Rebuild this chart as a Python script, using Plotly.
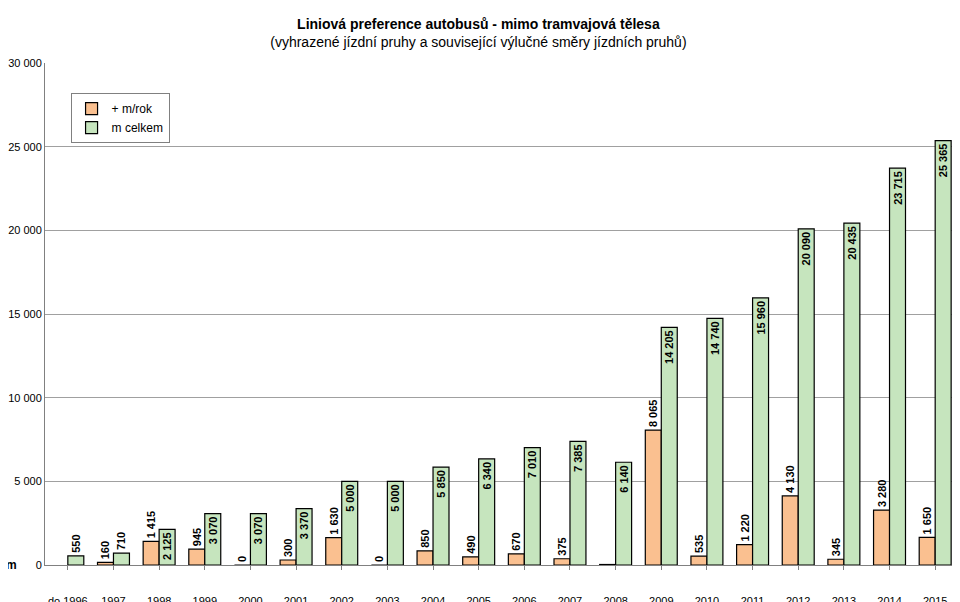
import plotly.graph_objects as go

years = ['do 1996'] + [str(y) for y in range(1997, 2016)]
m_rok = [None, 160, 1415, 945, 0, 300, 1630, 0, 850, 490, 670, 375, 30,
         8065, 535, 1220, 4130, 345, 3280, 1650]
m_rok_labels = ['', '160', '1 415', '945', '0', '300', '1 630', '0', '850', '490', '670', '375', '',
                '8 065', '535', '1 220', '4 130', '345', '3 280', '1 650']
m_celkem = [550, 710, 2125, 3070, 3070, 3370, 5000, 5000, 5850, 6340, 7010, 7385, 6140,
            14205, 14740, 15960, 20090, 20435, 23715, 25365]


def fmt(v):
    return f"{v:,}".replace(',', ' ')


green_pos = ['outside' if v < 1500 else 'inside' for v in m_celkem]

fig = go.Figure()
fig.add_trace(go.Bar(
    x=years, y=m_rok, name='+ m/rok',
    marker=dict(color='#FAC090', line=dict(color='black', width=1.2)),
    text=['<b>%s</b>' % t if t else '' for t in m_rok_labels],
    textposition='outside', textangle=-90,
    textfont=dict(family='Arial', size=11, color='black'),
    cliponaxis=False,
))
fig.add_trace(go.Bar(
    x=years, y=m_celkem, name='m celkem',
    marker=dict(color='#C6E5BE', line=dict(color='black', width=1.2)),
    text=['<b>%s</b>' % fmt(v) for v in m_celkem], textposition=green_pos, textangle=-90,
    insidetextanchor='end',
    textfont=dict(family='Arial', size=11, color='black'),
    cliponaxis=False,
))

yt = [0, 5000, 10000, 15000, 20000, 25000, 30000]

fig.update_layout(
    width=960, height=602,
    margin=dict(l=37, r=10, t=55, b=45),
    paper_bgcolor='white', plot_bgcolor='white',
    font=dict(family='Arial', size=11, color='black'),
    title=dict(text='<b>Liniová preference autobusů - mimo tramvajová tělesa</b><br>'
                    '(vyhrazené jízdní pruhy a související výlučné směry jízdních pruhů)',
               x=0.49, xanchor='center', y=0.965, yanchor='top',
               font=dict(size=14)),
    barmode='group', bargap=0.3, bargroupgap=0,
    uniformtext=dict(minsize=11, mode='show'),
    xaxis=dict(showline=True, linecolor='#808080', ticks='outside', tickcolor='#808080',
               ticklen=4, tickfont=dict(size=11), showgrid=False,
               ticklabelstandoff=22, automargin=False),
    yaxis=dict(range=[0, 30000], tickvals=yt, ticktext=[fmt(v) for v in yt], showline=True,
               linecolor='#808080', gridcolor='#A0A0A0', ticks='', zeroline=False,
               tickfont=dict(size=11), automargin=False),
    legend=dict(x=0.028, y=0.94, xanchor='left', yanchor='top',
                bordercolor='#808080', borderwidth=1, bgcolor='white',
                font=dict(size=12)),
)
fig.add_annotation(text='<b>rok</b>', xref='paper', yref='paper', x=-0.005, y=-0.07,
                   xanchor='right', yanchor='top', showarrow=False, font=dict(size=12))
fig.add_annotation(text='<b>m</b>', xref='paper', yref='y', x=-0.028, y=0,
                   xanchor='right', showarrow=False, font=dict(size=12))

fig.write_html("out.html")
